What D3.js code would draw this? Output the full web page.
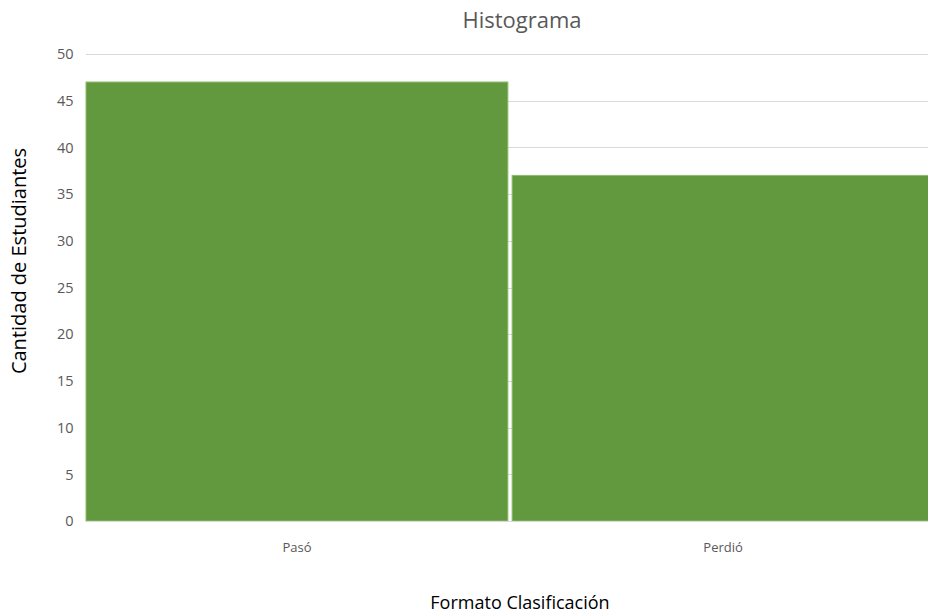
<!DOCTYPE html>
<html>
<head>
<meta charset="utf-8">
<script src="https://cdn.jsdelivr.net/npm/d3@7"></script>
<style>
  body { margin: 0; background: #fff; }
  svg { display: block; font-family: "Open Sans", sans-serif; }
</style>
</head>
<body>
<svg id="chart" width="928" height="614"></svg>
<script>
// data
const categories = ['Pasó', 'Perdió'];
const counts = [47, 37];
const yTicks = [0, 5, 10, 15, 20, 25, 30, 35, 40, 45, 50];

const svg = d3.select('#chart');
const margin = { top: 54, right: -6, bottom: 93, left: 86 };
const width = 928 - margin.left - margin.right;
const height = 614 - margin.top - margin.bottom;

const x = d3.scaleBand()
  .domain(categories)
  .range([0, width])
  .paddingInner(0.01)
  .paddingOuter(0);

const y = d3.scaleLinear()
  .domain([0, 50])
  .range([height, 0]);

const chart = svg.append('g')
  .attr('transform', `translate(${margin.left}, ${margin.top})`);

// gridlines
chart.append('g')
  .selectAll('line')
  .data(yTicks.slice(1))
  .enter().append('line')
    .attr('x1', 0)
    .attr('x2', width)
    .attr('y1', d => Math.round(y(d)) + 0.5)
    .attr('y2', d => Math.round(y(d)) + 0.5)
    .attr('stroke', '#d9d9d9')
    .attr('stroke-width', 1);

// y tick labels
chart.append('g')
  .selectAll('text')
  .data(yTicks)
  .enter().append('text')
    .attr('x', -12.5)
    .attr('y', d => y(d))
    .attr('dy', '0.36em')
    .attr('text-anchor', 'end')
    .attr('fill', '#595959')
    .attr('font-size', 14.5)
    .text(d => d);

// bars
chart.append('g')
  .selectAll('rect')
  .data(categories)
  .enter().append('rect')
    .attr('x', d => x(d))
    .attr('y', (d, i) => y(counts[i]))
    .attr('width', x.bandwidth())
    .attr('height', (d, i) => height - y(counts[i]))
    .attr('fill', '#62993e')
    .attr('stroke', '#8dba6c')
    .attr('stroke-width', 1);

// baseline
chart.append('line')
  .attr('x1', 0)
  .attr('x2', width)
  .attr('y1', height + 0.5)
  .attr('y2', height + 0.5)
  .attr('stroke', '#d9d9d9');

// x tick labels
chart.append('g')
  .selectAll('text')
  .data(categories)
  .enter().append('text')
    .attr('x', d => x(d) + x.bandwidth() / 2)
    .attr('y', height + 31)
    .attr('text-anchor', 'middle')
    .attr('fill', '#595959')
    .attr('font-size', 13)
    .text(d => d);

// titles
svg.append('text')
  .attr('x', 522)
  .attr('y', 28)
  .attr('text-anchor', 'middle')
  .attr('fill', '#595959')
  .attr('font-size', 22)
  .text('Histograma');

svg.append('text')
  .attr('x', 520)
  .attr('y', 609)
  .attr('text-anchor', 'middle')
  .attr('fill', '#000')
  .attr('font-size', 18)
  .text('Formato Clasificación');

svg.append('text')
  .attr('transform', 'translate(26, 261) rotate(-90)')
  .attr('text-anchor', 'middle')
  .attr('fill', '#000')
  .attr('font-size', 20)
  .text('Cantidad de Estudiantes');
</script>
</body>
</html>
